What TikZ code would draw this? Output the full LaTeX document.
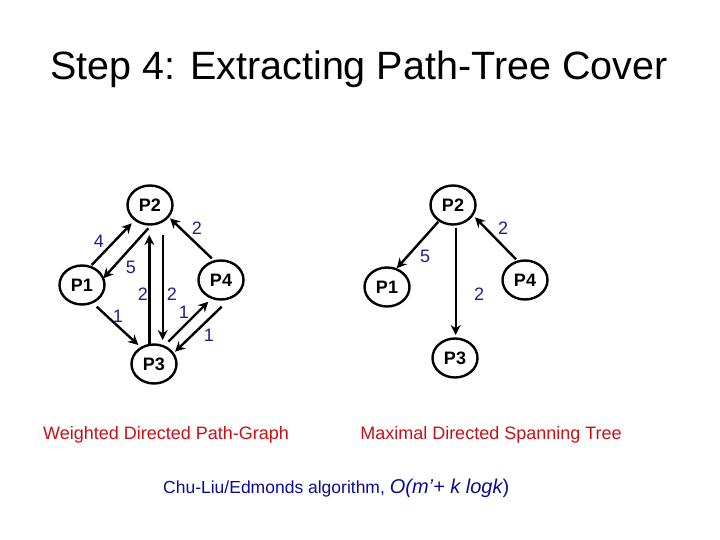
\documentclass[tikz,border=0pt]{standalone}
\usepackage{fontspec}
\setmainfont{Liberation Sans}
\usetikzlibrary{arrows.meta,calc,shapes.geometric}
\definecolor{numblue}{RGB}{30,30,140}
\definecolor{capred}{RGB}{200,16,24}
\definecolor{algblue}{RGB}{10,10,150}
\begin{document}
\begin{tikzpicture}[x=1pt,y=-1pt,
  pnode/.style={ellipse,draw,line width=2.4pt,minimum width=45pt,minimum height=39pt,inner sep=0pt,font=\fontsize{18}{18}\selectfont\bfseries},
  edge/.style={line width=2.4pt,-{Stealth[length=10pt,width=10pt]}},
  wlab/.style={text=numblue,font=\fontsize{18}{18}\selectfont,inner sep=0pt},
  captext/.style={text=capred,font=\fontsize{18}{18}\selectfont,inner sep=0pt}]
\useasboundingbox (0,0) rectangle (720,540);
\node[font=\fontsize{39.5}{39.5}\selectfont,inner sep=0pt] (title) at (359,69) {Step 4: Extracting Path-Tree Cover};
% left graph
\node[pnode] (P2) at (150,205) {P2};
\node[pnode] (P1) at (82,285) {P1};
\node[pnode] (P3) at (154,364) {P3};
\node[pnode] (P4) at (221,280) {P4};
\draw[edge] ($(P1)+(9.7,-20)$) -- ($(P2)+(-18.3,18.3)$);
\draw[edge] ($(P2)+(-1.7,23.3)$) -- ($(P1)+(21.3,-6.7)$);
\draw[edge] ($(P3)+(-4.7,-19)$) -- ($(P2)+(-0.7,30)$);
\draw[edge] ($(P2)+(12.7,30)$) -- ($(P3)+(8.7,-24)$);
\draw[edge] ($(P4)+(-9.3,-21.7)$) -- ($(P2)+(20,13.3)$);
\draw[edge] ($(P3)+(14.3,-22.3)$) -- ($(P4)+(-12.7,21.7)$);
\draw[edge] ($(P4)+(0.7,26.7)$) -- ($(P3)+(21,-12.3)$);
\draw[edge] ($(P1)+(14.7,21.7)$) -- ($(P3)+(-15.7,-19)$);
\node[wlab] (w4) at (99,241) {4};
\node[wlab] (w5) at (131,267) {5};
\node[wlab] (w2a) at (143,294) {2};
\node[wlab] (w2b) at (172,294) {2};
\node[wlab] (w2c) at (197,228) {2};
\node[wlab] (w1a) at (184,312) {1};
\node[wlab] (w1b) at (209,335) {1};
\node[wlab] (w1c) at (118,316) {1};
% right graph
\node[pnode] (Q2) at (453,205) {P2};
\node[pnode] (Q1) at (387,287) {P1};
\node[pnode] (Q3) at (455,358) {P3};
\node[pnode] (Q4) at (525,280) {P4};
\draw[edge] ($(Q2)+(-14.7,16.7)$) -- ($(Q1)+(9.7,-18.7)$);
\draw[edge] ($(Q2)+(2.7,23.3)$) -- ($(Q3)+(0.7,-23)$);
\draw[edge] ($(Q4)+(-9,-20.7)$) -- ($(Q2)+(22,12.3)$);
\node[wlab] (v5) at (425,256) {5};
\node[wlab] (v2a) at (479,294) {2};
\node[wlab] (v2b) at (503,228) {2};
% captions
\node[captext] (c1) at (166,435) {Weighted Directed Path-Graph};
\node[captext] (c2) at (491,435) {Maximal Directed Spanning Tree};
\node[text=algblue,anchor=base west,inner sep=0pt] (alg) at (163,493)
  {\fontsize{17.5}{17.5}\selectfont Chu-Liu/Edmonds algorithm, \fontsize{20}{20}\selectfont\itshape O(m'+ k logk\upshape)};
\end{tikzpicture}
\end{document}
